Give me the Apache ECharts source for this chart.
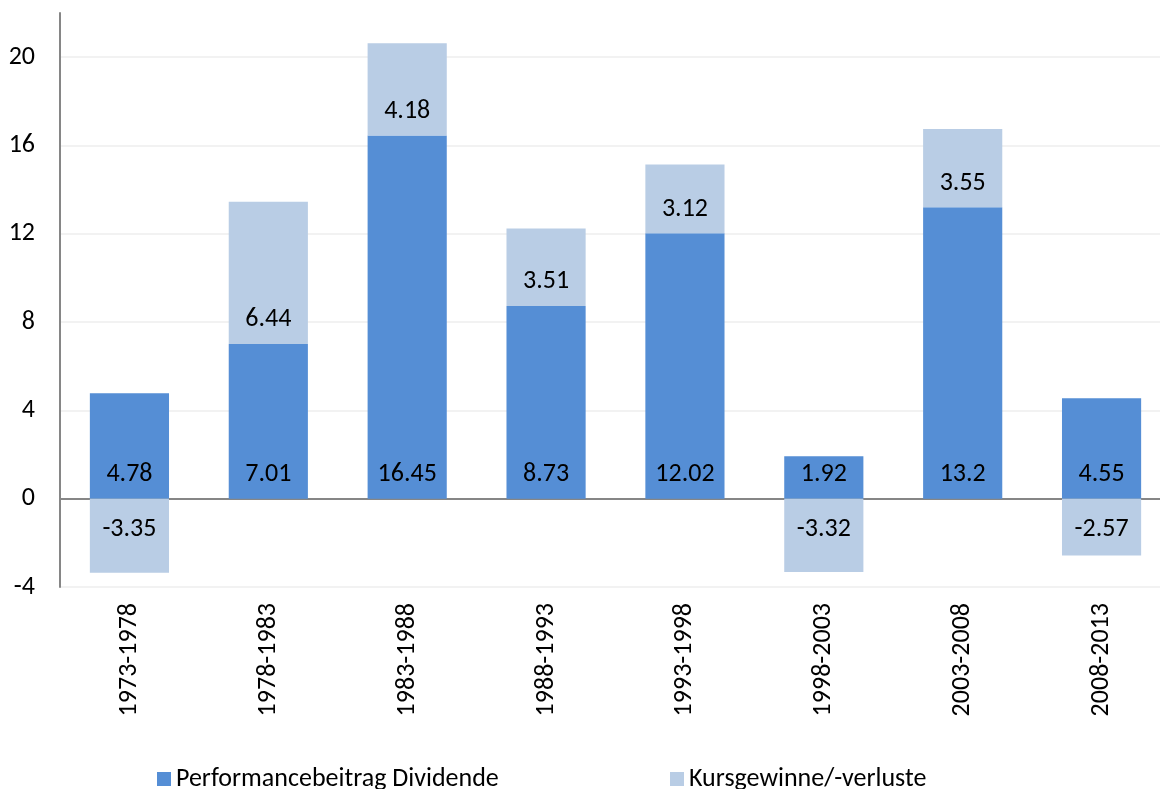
<!DOCTYPE html>
<html>
<head>
<meta charset="utf-8">
<script src="https://cdn.jsdelivr.net/npm/echarts@6/dist/echarts.min.js"></script>
<style>html,body{margin:0;padding:0;background:#fff;overflow:hidden}#c{width:1172px;height:789px}</style>
</head>
<body>
<div id="c"></div>
<script>
var categories = ['1973-1978','1978-1983','1983-1988','1988-1993','1993-1998','1998-2003','2003-2008','2008-2013'];
var dividende = [4.78, 7.01, 16.45, 8.73, 12.02, 1.92, 13.2, 4.55];
var kurs = [-3.35, 6.44, 4.18, 3.51, 3.12, -3.32, 3.55, -2.57];
var seriesNames = ['Performancebeitrag Dividende', 'Kursgewinne/-verluste'];

var FONT = 'Carlito, Calibri, Lato, sans-serif';
var FS = 26;
function items(arr) {
  return arr.map(function (v) {
    return { value: v, label: v < 0 ? { position: 'insideTop', distance: 18 } : { position: 'insideBottom', distance: 11 } };
  });
}
var chart = echarts.init(document.getElementById('c'));
chart.setOption({
  animation: false,
  textStyle: { fontFamily: FONT },
  grid: { left: 60, top: 13, width: 1111, bottom: 202, containLabel: false },
  legend: [
    { data: [seriesNames[0]], left: 152, top: 761, icon: 'rect', itemWidth: 14, itemHeight: 14, itemGap: 5,
      textStyle: { fontFamily: FONT, fontSize: FS, color: '#000' } },
    { data: [seriesNames[1]], left: 665, top: 761, icon: 'rect', itemWidth: 14, itemHeight: 14, itemGap: 5,
      textStyle: { fontFamily: FONT, fontSize: FS, color: '#000' } }
  ],
  xAxis: [
    { type: 'category', data: categories, position: 'bottom',
      axisLine: { show: false, onZero: false }, axisTick: { show: false },
      axisLabel: { rotate: 90, margin: 16, fontSize: FS, color: '#000', fontFamily: FONT, interval: 0 } },
    { type: 'category', data: categories, position: 'bottom',
      axisLine: { show: true, onZero: true, lineStyle: { color: '#868686', width: 2 } },
      axisTick: { show: false }, axisLabel: { show: false } }
  ],
  yAxis: {
    type: 'value', min: -4, max: 22, interval: 4,
    axisLine: { show: true, lineStyle: { color: '#868686', width: 2 } },
    axisTick: { show: false },
    axisLabel: { fontSize: FS, color: '#000', fontFamily: FONT, margin: 25, showMaxLabel: false },
    splitLine: { show: true, lineStyle: { color: ['#f2f2f2','#f2f2f2','#f2f2f2','#f2f2f2','#f2f2f2','#f2f2f2','#f2f2f2','rgba(0,0,0,0)'], width: 2 } }
  },
  series: [
    { name: seriesNames[0], type: 'bar', stack: 'a', data: items(dividende), barCategoryGap: '43%',
      itemStyle: { color: '#558ED5' },
      label: { show: true, fontSize: FS, color: '#000', fontFamily: FONT } },
    { name: seriesNames[1], type: 'bar', stack: 'a', data: items(kurs), barCategoryGap: '43%',
      itemStyle: { color: '#B9CDE5' },
      label: { show: true, fontSize: FS, color: '#000', fontFamily: FONT } }
  ]
});
</script>
</body>
</html>
